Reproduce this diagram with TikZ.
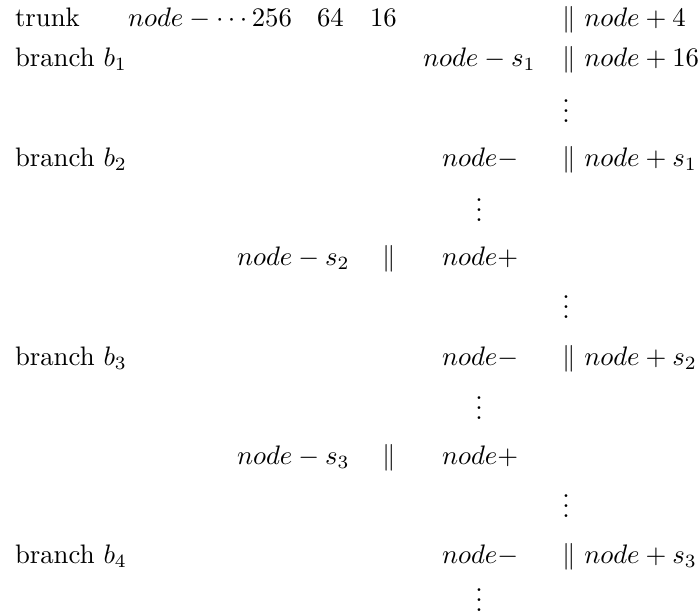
\RequirePackage{fix-cm}
\documentclass[tikz,border=0pt]{standalone}
\newcommand{\myvdots}{\vbox{\baselineskip4pt\lineskiplimit0pt\hbox{.}\hbox{.}\hbox{.}}}
\begin{document}
\begin{tikzpicture}[x=0.4pt,y=-0.4pt,
  every node/.style={font=\fontsize{10.7pt}{13pt}\selectfont},
  txt/.style={inner sep=0pt,outer sep=0pt,anchor=base west},
  vd/.style={inner sep=0pt,outer sep=0pt,anchor=base}]
\useasboundingbox (0,0) rectangle (699,614);
% row 1
\node[txt] (t) at (15,26) {trunk};
\node[txt] (t1) at (128,26) {$node-\cdots256$};
\node[txt] (t2) at (317,26) {$64$};
\node[txt] (t3) at (370,26) {$16$};
\node[txt] (t4) at (562,26) {$\|$ $node+4$};
% row 2
\node[txt] (b1) at (15,66) {branch $b_1$};
\node[txt] (b1a) at (423,66) {$node-s_1$};
\node[txt] (b1b) at (562,66) {$\|$ $node+16$};
\node[vd] (v1) at (566,122) {\myvdots};
% row b2
\node[txt] (b2) at (15,166) {branch $b_2$};
\node[txt] (b2a) at (442,166) {$node-$};
\node[txt] (b2b) at (562,166) {$\|$ $node+s_1$};
\node[vd] (v2) at (479,221) {\myvdots};
\node[txt] (r2a) at (237,265) {$node-s_2$};
\node[txt] (r2b) at (382,265) {$\|$};
\node[txt] (r2c) at (442,265) {$node+$};
\node[vd] (v3) at (566,318) {\myvdots};
% row b3
\node[txt] (b3) at (15,365) {branch $b_3$};
\node[txt] (b3a) at (442,365) {$node-$};
\node[txt] (b3b) at (562,365) {$\|$ $node+s_2$};
\node[vd] (v4) at (479,419) {\myvdots};
\node[txt] (r3a) at (237,464) {$node-s_3$};
\node[txt] (r3b) at (382,464) {$\|$};
\node[txt] (r3c) at (442,464) {$node+$};
\node[vd] (v5) at (566,517) {\myvdots};
% row b4
\node[txt] (b4) at (15,563) {branch $b_4$};
\node[txt] (b4a) at (442,563) {$node-$};
\node[txt] (b4b) at (562,563) {$\|$ $node+s_3$};
\node[vd] (v6) at (479,611) {\myvdots};
\end{tikzpicture}
\end{document}
